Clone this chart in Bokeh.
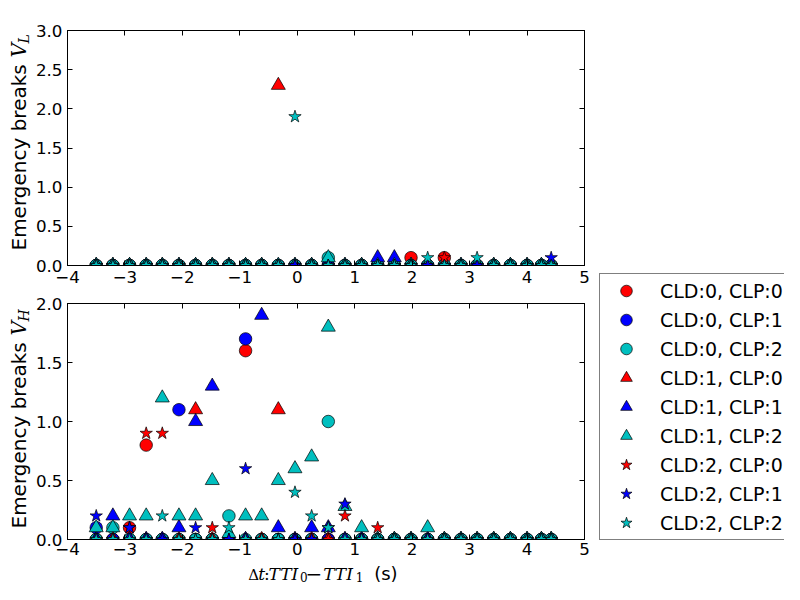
import math
from bokeh.plotting import figure
from bokeh.models import (Range1d, LinearAxis, FixedTicker, CustomJSTickFormatter,
                          Label, Legend, LegendItem)
from bokeh.layouts import row, column
from bokeh.embed import file_html
from bokeh.resources import INLINE

# ---------------- data ----------------
dt_values = [-3.50, -3.21, -2.92, -2.63, -2.35, -2.06, -1.77, -1.48, -1.19, -0.90,
             -0.62, -0.33, -0.04, 0.25, 0.54, 0.83, 1.12, 1.40, 1.69, 1.98,
             2.27, 2.56, 2.85, 3.13, 3.42, 3.71, 4.00, 4.25, 4.42]

series_labels = ["CLD:0, CLP:0", "CLD:0, CLP:1", "CLD:0, CLP:2",
                 "CLD:1, CLP:0", "CLD:1, CLP:1", "CLD:1, CLP:2",
                 "CLD:2, CLP:0", "CLD:2, CLP:1", "CLD:2, CLP:2"]

# Emergency breaks V_L (top panel)
vl_cld0_clp0 = [0, 0, 0, 0, 0, 0, 0, 0, 0, 0, 0, 0, 0, 0, 0, 0, 0, 0, 0, 0.1, 0, 0.1, 0, 0, 0, 0, 0, 0, 0]
vl_cld0_clp1 = [0, 0, 0, 0, 0, 0, 0, 0, 0, 0, 0, 0, 0, 0, 0, 0, 0, 0, 0, 0, 0, 0, 0, 0, 0, 0, 0, 0, 0]
vl_cld0_clp2 = [0, 0, 0, 0, 0, 0, 0, 0, 0, 0, 0, 0, 0, 0, 0.1, 0, 0, 0, 0, 0, 0, 0, 0, 0, 0, 0, 0, 0, 0]
vl_cld1_clp0 = [0, 0, 0, 0, 0, 0, 0, 0, 0, 0, 0, 2.3, 0, 0, 0, 0, 0, 0, 0, 0, 0, 0, 0, 0, 0, 0, 0, 0, 0]
vl_cld1_clp1 = [0, 0, 0, 0, 0, 0, 0, 0, 0, 0, 0, 0, 0, 0, 0, 0, 0, 0.1, 0.1, 0, 0, 0, 0, 0, 0, 0, 0, 0, 0]
vl_cld1_clp2 = [0, 0, 0, 0, 0, 0, 0, 0, 0, 0, 0, 0, 0, 0, 0.1, 0, 0, 0, 0, 0, 0, 0, 0, 0, 0, 0, 0, 0, 0]
vl_cld2_clp0 = [0, 0, 0, 0, 0, 0, 0, 0, 0, 0, 0, 0, 0, 0, 0, 0, 0, 0, 0, 0, 0, 0.1, 0, 0, 0, 0, 0, 0, 0]
vl_cld2_clp1 = [0, 0, 0, 0, 0, 0, 0, 0, 0, 0, 0, 0, 0, 0, 0, 0, 0, 0, 0, 0, 0, 0, 0, 0, 0, 0, 0, 0, 0.1]
vl_cld2_clp2 = [0, 0, 0, 0, 0, 0, 0, 0, 0, 0, 0, 0, 1.9, 0, 0, 0, 0, 0, 0, 0, 0.1, 0, 0, 0.1, 0, 0, 0, 0, 0]

# Emergency breaks V_H (bottom panel)
vh_cld0_clp0 = [0, 0, 0.1, 0.8, 0, 0, 0, 0, 0, 1.6, 0, 0, 0, 0, 0, 0, 0, 0, 0, 0, 0, 0, 0, 0, 0, 0, 0, 0, 0]
vh_cld0_clp1 = [0.1, 0, 0, 0, 0, 1.1, 0, 0, 0, 1.7, 0, 0, 0, 0, 0, 0, 0, 0, 0, 0, 0, 0, 0, 0, 0, 0, 0, 0, 0]
vh_cld0_clp2 = [0, 0.1, 0, 0, 0, 0, 0, 0, 0.2, 0, 0, 0, 0, 0, 1.0, 0, 0, 0, 0, 0, 0, 0, 0, 0, 0, 0, 0, 0, 0]
vh_cld1_clp0 = [0, 0, 0, 0, 0, 0, 1.1, 0, 0, 0, 0, 1.1, 0, 0, 0, 0, 0, 0, 0, 0, 0, 0, 0, 0, 0, 0, 0, 0, 0]
vh_cld1_clp1 = [0, 0.2, 0, 0, 0, 0.1, 1.0, 1.3, 0, 0, 1.9, 0.1, 0, 0.1, 0.1, 0, 0, 0, 0, 0, 0, 0, 0, 0, 0, 0, 0, 0, 0]
vh_cld1_clp2 = [0.1, 0.1, 0.2, 0.2, 1.2, 0.2, 0.2, 0.5, 0.05, 0.2, 0.2, 0.5, 0.6, 0.7, 1.8, 0.28, 0.1, 0, 0, 0, 0.1, 0, 0, 0, 0, 0, 0, 0, 0]
vh_cld2_clp0 = [0, 0, 0.1, 0.9, 0.9, 0, 0, 0.1, 0, 0, 0, 0, 0, 0, 0, 0.2, 0, 0.1, 0, 0, 0, 0, 0, 0, 0, 0, 0, 0, 0]
vh_cld2_clp1 = [0.2, 0, 0.1, 0, 0, 0, 0.1, 0, 0, 0.6, 0, 0, 0, 0, 0.1, 0.3, 0, 0, 0, 0, 0, 0, 0, 0, 0, 0, 0, 0, 0]
vh_cld2_clp2 = [0, 0, 0, 0, 0.2, 0, 0, 0, 0.1, 0, 0, 0, 0.4, 0.2, 0.1, 0, 0, 0, 0, 0, 0, 0, 0, 0, 0, 0, 0, 0, 0]

x_ticks = [-4, -3, -2, -1, 0, 1, 2, 3, 4, 5]
vl_ticks = [0.0, 0.5, 1.0, 1.5, 2.0, 2.5, 3.0]
vh_ticks = [0.0, 0.5, 1.0, 1.5, 2.0]

vl_series = [vl_cld0_clp0, vl_cld0_clp1, vl_cld0_clp2, vl_cld1_clp0, vl_cld1_clp1,
             vl_cld1_clp2, vl_cld2_clp0, vl_cld2_clp1, vl_cld2_clp2]
vh_series = [vh_cld0_clp0, vh_cld0_clp1, vh_cld0_clp2, vh_cld1_clp0, vh_cld1_clp1,
             vh_cld1_clp2, vh_cld2_clp0, vh_cld2_clp1, vh_cld2_clp2]

# ---------------- styles ----------------
RED, BLUE, CYAN = "#ff0000", "#0000ff", "#00bfbf"
colors = [RED, BLUE, CYAN] * 3
markers = ["circle"] * 3 + ["triangle"] * 3 + ["star"] * 3
sizes = {"circle": 12.5, "triangle": 14, "star": 13}
TICK_FONT = "16.7px"
SANS = "DejaVu Sans"
SERIF = "DejaVu Serif"
MINUS = "\u2212"

fmt_int = CustomJSTickFormatter(code="return (tick < 0 ? '%s' : '') + Math.abs(tick).toFixed(0);" % MINUS)
fmt_dec = CustomJSTickFormatter(code="return (tick < 0 ? '%s' : '') + Math.abs(tick).toFixed(1);" % MINUS)
fmt_none = CustomJSTickFormatter(code="return '';")

# ---------------- page geometry (px from page top-left) ----------------
PAGE_W, PAGE_H = 784, 584
STRIP_W = 32            # left strip holding the y labels
MAIN_L, MAIN_R = STRIP_W, 590
FR_L, FR_R = 64, 584     # frame left/right of both panels
TOP_FIG = (0, 290)       # top figure page y range
TOP_FR = (30, 265)       # top frame page y range
BOT_FIG = (290, 562)
BOT_FR = (303, 539)
XL_FIG = (562, PAGE_H)   # x-label strip


def style_axis(ax, ticks, fmt, hidden=False):
    ax.ticker = FixedTicker(ticks=ticks)
    ax.formatter = fmt
    ax.axis_line_color = "black"
    ax.axis_line_width = 1
    ax.major_tick_line_color = "black"
    ax.major_tick_in = 5
    ax.major_tick_out = 0
    ax.minor_tick_line_color = None
    ax.major_label_text_font = SANS
    ax.major_label_text_color = "black"
    if hidden:
        ax.major_label_text_font_size = "0px"
        ax.major_label_standoff = 0
    else:
        ax.major_label_text_font_size = TICK_FONT


def make_panel(fig_y, fr_y, y_end, y_ticks, values, x_standoff):
    p = figure(width=MAIN_R - MAIN_L, height=fig_y[1] - fig_y[0],
               x_range=Range1d(-4, 5), y_range=Range1d(0, y_end),
               toolbar_location=None, output_backend="svg",
               min_border_left=FR_L - MAIN_L, min_border_right=MAIN_R - FR_R,
               min_border_top=fr_y[0] - fig_y[0], min_border_bottom=fig_y[1] - fr_y[1])
    p.grid.visible = False
    p.outline_line_color = "black"
    p.outline_line_width = 1
    p.background_fill_color = "white"
    style_axis(p.xaxis[0], x_ticks, fmt_int)
    p.xaxis[0].major_label_standoff = x_standoff
    style_axis(p.yaxis[0], y_ticks, fmt_dec)
    p.yaxis[0].major_label_standoff = 5
    ab = LinearAxis()
    style_axis(ab, x_ticks, fmt_none, hidden=True)
    p.add_layout(ab, "above")
    rt = LinearAxis()
    style_axis(rt, y_ticks, fmt_none, hidden=True)
    p.add_layout(rt, "right")
    for vals, col, mk in zip(values, colors, markers):
        p.scatter(x=dt_values, y=vals, marker=mk, size=sizes[mk], fill_color=col,
                  line_color="black", line_width=0.7)
    return p


def make_strip(x0, x1, y0, y1):
    w, h = x1 - x0, y1 - y0
    s = figure(width=w, height=h, x_range=Range1d(0, w), y_range=Range1d(h, 0),
               toolbar_location=None, output_backend="svg", min_border=0,
               x_axis_location=None, y_axis_location=None, outline_line_color=None)
    s.grid.visible = False
    return s


def put_text(s, org, text, px, py, size_px, font=SANS, style="normal", rotated=False):
    # (px, py): start of the text on its baseline; anchor placed at the text's middle
    shift = 0.35 * size_px
    if rotated:
        ax_, ay_, ang = px - shift, py, math.pi / 2
    else:
        ax_, ay_, ang = px, py - shift, 0.0
    s.add_layout(Label(x=ax_ - org[0], y=ay_ - org[1], text=text, text_font=font,
                       text_font_size="%gpx" % size_px, text_font_style=style, angle=ang,
                       text_align="left", text_baseline="middle", text_color="black"))


p_top = make_panel(TOP_FIG, TOP_FR, 3, vl_ticks, vl_series, 5)
p_bot = make_panel(BOT_FIG, BOT_FR, 2, vh_ticks, vh_series, 3)

# left strip with the two y labels
ys = make_strip(0, STRIP_W, 0, PAGE_H)
yo = (0, 0)
put_text(ys, yo, "Emergency breaks ", 25, 250, 20, rotated=True)
put_text(ys, yo, "V", 25, 57, 20, SERIF, "italic", True)
put_text(ys, yo, "L", 28, 43, 14, SERIF, "italic", True)
put_text(ys, yo, "Emergency breaks ", 25, 528, 20, rotated=True)
put_text(ys, yo, "V", 25, 335, 20, SERIF, "italic", True)
put_text(ys, yo, "H", 28, 321, 14, SERIF, "italic", True)

# bottom strip with the x label: Δt: TTI0 − TTI1 (s)
# (strip frame observed to sit right of its canvas edge; positions corrected for that)
xs_ = make_strip(MAIN_L, MAIN_R, XL_FIG[0], XL_FIG[1])
xo = (MAIN_L, XL_FIG[0])
BL = 579.5
put_text(xs_, xo, "\u0394", 227, BL, 15, SERIF)
put_text(xs_, xo, "t", 238, BL, 17, SERIF, "italic")
put_text(xs_, xo, ":", 244, BL, 17, SERIF)
put_text(xs_, xo, "TTI", 249, BL, 17, SERIF, "italic")
put_text(xs_, xo, "0", 283, BL + 1.5, 12, SERIF)
put_text(xs_, xo, MINUS, 289, BL, 20, SERIF)
put_text(xs_, xo, "TTI", 308, BL, 17, SERIF, "italic")
put_text(xs_, xo, "1", 343, BL + 1.5, 12, SERIF)
put_text(xs_, xo, "(s)", 363, BL, 18, SANS)

# legend panel
LEG_W = PAGE_W - MAIN_R
lf = figure(width=LEG_W, height=PAGE_H, x_range=Range1d(0, 1), y_range=Range1d(0, 1),
            toolbar_location=None, output_backend="svg", min_border=0,
            x_axis_location=None, y_axis_location=None, outline_line_color=None)
lf.grid.visible = False
items = []
for lab, col, mk in zip(series_labels, colors, markers):
    r = lf.scatter(x=[float("nan")], y=[float("nan")], marker=mk, size=sizes[mk],
                   fill_color=col, line_color="black", line_width=0.7)
    items.append(LegendItem(label=lab, renderers=[r]))
leg = Legend(items=items, location=(599 - MAIN_R, PAGE_H - 540), margin=0, padding=2,
             spacing=0, glyph_width=48, glyph_height=29, label_height=29, label_width=123,
             label_standoff=10, label_text_font=SANS, label_text_font_size="19px",
             label_text_color="black", border_line_color="black", border_line_width=1,
             background_fill_color="white", background_fill_alpha=1.0)
lf.add_layout(leg)

layout = row(ys, column(p_top, p_bot, xs_), lf)
open("out.html", "w").write(file_html(layout, INLINE))
